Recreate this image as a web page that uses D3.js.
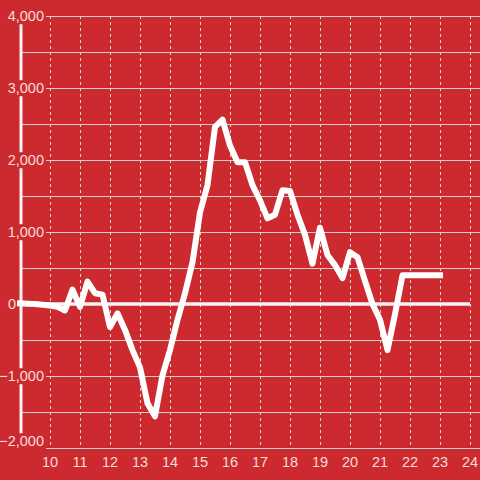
<!DOCTYPE html>
<html><head><meta charset="utf-8">
<script src="https://cdn.jsdelivr.net/npm/d3@7"></script>
<style>
html,body{margin:0;padding:0;background:#cc2a2e;}
svg{display:block;}
text{font-family:"Liberation Sans",Arial,sans-serif;}
</style></head>
<body><svg id="chart" width="480" height="480"></svg>
<script>
// Data: hour of day (15-minute steps) and value
const hours = [9,9.25,9.5,9.75,10,10.25,10.5,10.75,11,11.25,11.5,11.75,12,12.25,12.5,12.75,13,13.25,13.5,13.75,14,14.25,14.5,14.75,15,15.25,15.5,15.75,16,16.25,16.5,16.75,17,17.25,17.5,17.75,18,18.25,18.5,18.75,19,19.25,19.5,19.75,20,20.25,20.5,20.75,21,21.25,21.5,21.75,22,22.25,22.5,22.75,23];
const values = [10,5,0,-10,-20,-40,-90,200,-40,310,150,130,-320,-130,-360,-640,-880,-1380,-1560,-990,-640,-220,150,580,1270,1650,2460,2560,2200,1970,1970,1650,1440,1190,1240,1580,1570,1240,960,560,1060,680,540,360,720,650,320,0,-220,-640,-140,400,400,400,400,400,400];
const xTicks = [10,11,12,13,14,15,16,17,18,19,20,21,22,23,24];
const yGrid = [-2000,-1500,-1000,-500,0,500,1000,1500,2000,2500,3000,3500,4000];
const yLabels = [-2000,-1000,0,1000,2000,3000,4000];

const svg = d3.select("#chart");
const bg = "#cc2a2e";
svg.append("rect").attr("width",480).attr("height",480).attr("fill",bg);

const x = d3.scaleLinear().domain([9,24]).range([20,470]);
const y = d3.scaleLinear().domain([-2000,4000]).range([448,16]);

// vertical dotted grid
svg.append("g").selectAll("line").data(xTicks).join("line")
  .attr("x1",d=>x(d)+0.5).attr("x2",d=>x(d)+0.5)
  .attr("y1",y(4000)).attr("y2",y(-2000))
  .attr("stroke","#d8d8d8").attr("stroke-width",1).attr("stroke-dasharray","3,3");

// horizontal grid
svg.append("g").selectAll("line").data(yGrid.filter(d=>d!==0)).join("line")
  .attr("x1",22).attr("x2",480)
  .attr("y1",d=>y(d)+0.5).attr("y2",d=>y(d)+0.5)
  .attr("stroke","#cfcfcf").attr("stroke-width",1.2);

// y axis line
svg.append("line").attr("x1",21).attr("x2",21).attr("y1",y(4000)).attr("y2",y(-2000))
  .attr("stroke","#f4f4f4").attr("stroke-width",3);

// zero line
svg.append("line").attr("x1",20).attr("x2",x(24)).attr("y1",y(0)).attr("y2",y(0))
  .attr("stroke","#f4f4f4").attr("stroke-width",3.5);

// y labels with background (drawn before data line so the line stays on top)
const fmt = d3.format(",");
const yl = svg.append("g").selectAll("g").data(yLabels).join("g")
  .attr("transform",d=>`translate(${d===0 ? 16 : 44},${d===-2000 ? y(d)-7 : y(d)})`);
yl.each(function(d){
  const g = d3.select(this);
  const t = g.append("text").attr("text-anchor","end").attr("dy","0.36em")
    .attr("font-size",14.5).attr("fill","rgba(255,255,255,0.85)").text(fmt(d));
  if (d !== 0) {
    const bb = t.node().getBBox();
    g.insert("rect","text").attr("x",bb.x-2).attr("y",bb.y).attr("width",bb.width+4).attr("height",bb.height)
      .attr("fill",bg);
  }
});

// data line
const line = d3.line().x((d,i)=>x(hours[i])).y(d=>y(d));
svg.append("path").datum(values).attr("d",line)
  .attr("fill","none").attr("stroke","#ffffff").attr("stroke-width",6)
  .attr("stroke-linejoin","round").attr("stroke-linecap","square");

// x labels
svg.append("g").selectAll("text").data(xTicks).join("text")
  .attr("x",d=>x(d)).attr("y",467).attr("text-anchor","middle")
  .attr("font-size",14.5).attr("fill","rgba(255,255,255,0.85)").text(d=>d);
</script></body></html>
